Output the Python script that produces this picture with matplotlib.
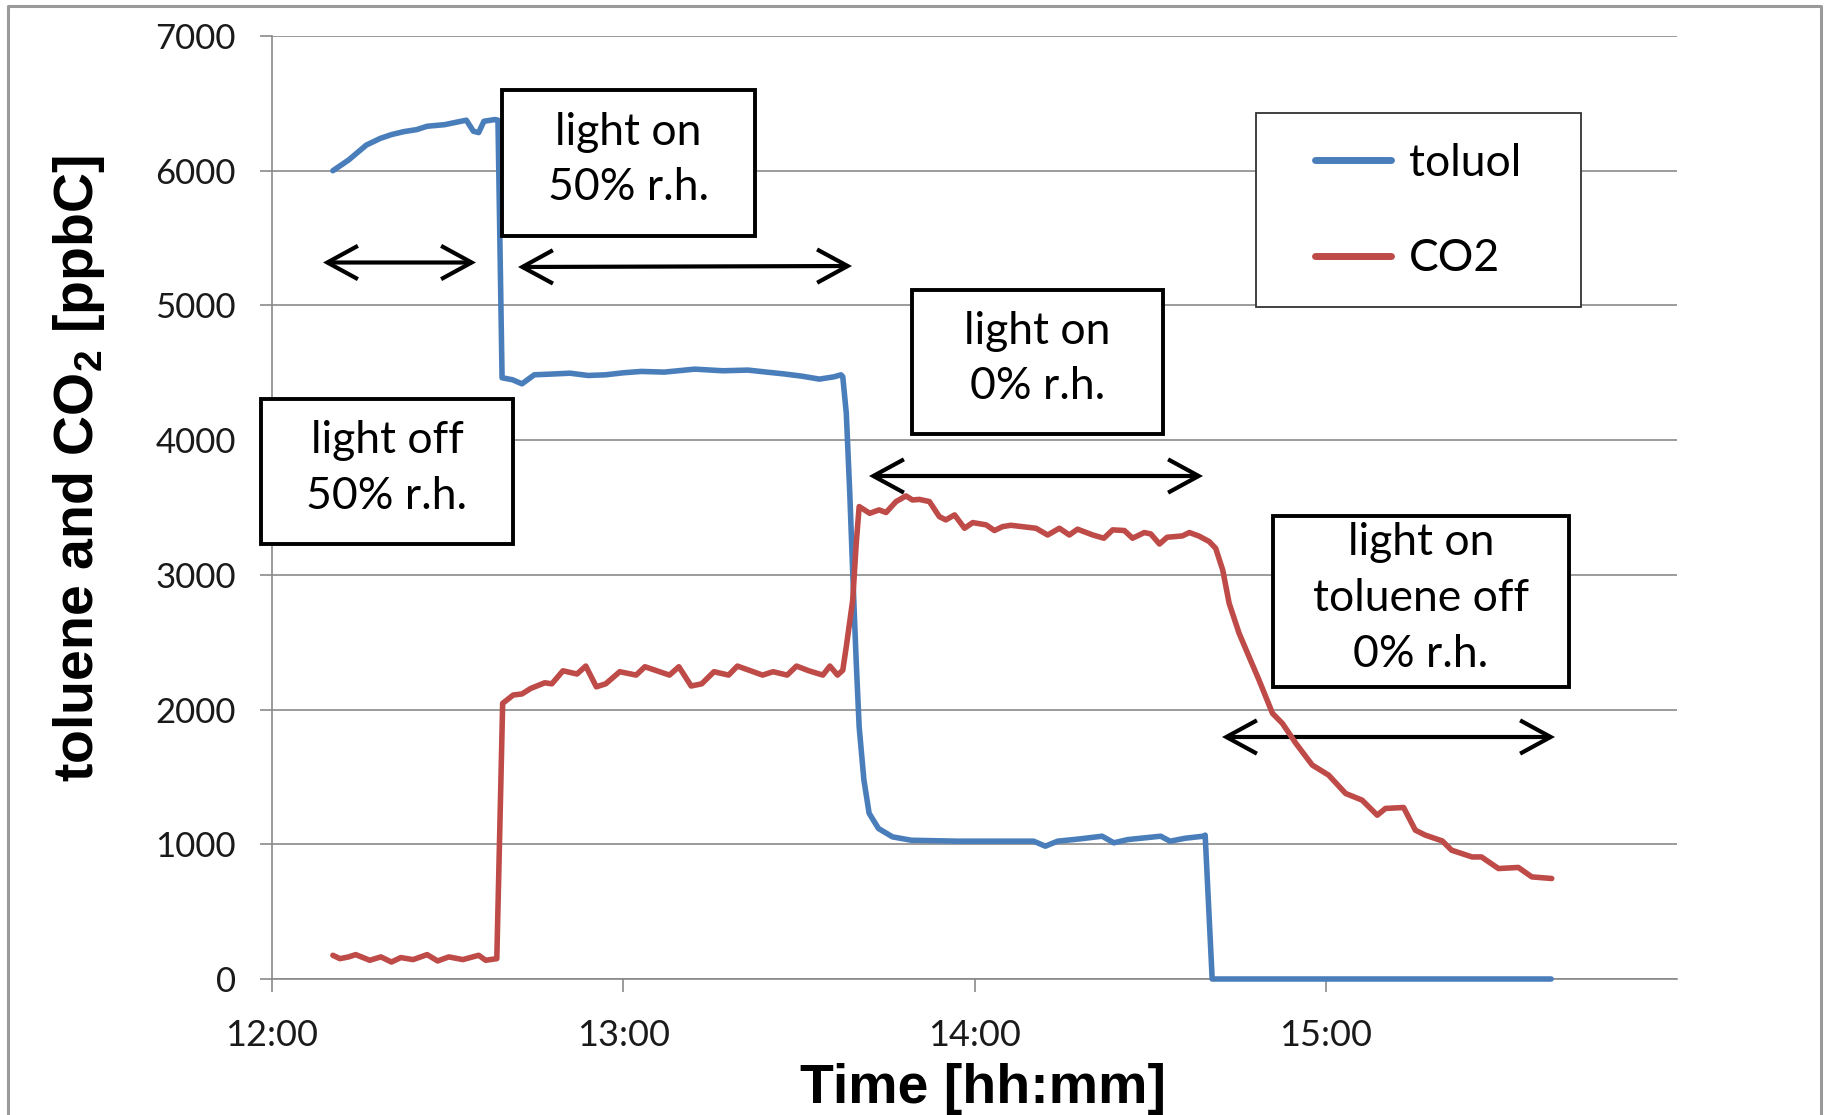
import matplotlib
matplotlib.use("Agg")
import matplotlib.pyplot as plt
from matplotlib.patches import Rectangle, FancyArrowPatch, ArrowStyle
from matplotlib.lines import Line2D

# ---------------- data (time in minutes after 12:00, values in ppbC) -------------
toluol_min = [10.4, 13.1, 16.1, 18.5, 20.4, 22.5, 24.7, 26.5, 29.5, 31.5, 33.2, 34.4,
              35.3, 36.2, 38.1, 38.6, 39.3, 41.1, 42.7, 44.8, 47.5, 50.9, 54.0, 57.0,
              60.0, 63.1, 67.0, 72.2, 77.0, 81.3, 84.5, 87.4, 90.5, 93.5, 96.0, 97.2,
              97.5, 98.1, 98.7, 99.3, 99.8, 100.3, 101.1, 102.0, 103.6, 106.0, 109.2,
              117.2, 130.1, 132.1, 134.2, 138.0, 141.8, 143.8, 146.2, 151.8, 153.4,
              156.0, 159.1, 159.4, 160.6, 218.5]
toluol_ppbC = [6000, 6080, 6190, 6240, 6268, 6290, 6305, 6330, 6342, 6360, 6375, 6293,
               6283, 6367, 6380, 6375, 4463, 4448, 4418, 4485, 4490, 4497, 4480, 4485,
               4500, 4510, 4505, 4527, 4515, 4520, 4505, 4492, 4475, 4453, 4470, 4485,
               4470, 4200, 3600, 2900, 2350, 1870, 1480, 1230, 1117, 1055, 1030,
               1023, 1023, 986, 1023, 1040, 1060, 1011, 1035, 1060, 1023,
               1045, 1060, 1068, 0, 0]

co2_min = [10.4, 11.6, 13.1, 14.3, 16.7, 18.6, 20.4, 22.0, 24.1, 26.5, 28.3, 30.2,
           32.6, 35.3, 36.5, 38.4, 39.0, 39.4, 41.2, 42.7, 44.2, 46.6, 47.8, 49.7,
           52.1, 53.6, 55.4, 57.0, 59.4, 62.2, 63.7, 67.9, 69.5, 71.6, 73.4, 75.5,
           78.0, 79.5, 83.8, 85.6, 88.0, 89.6, 91.7, 94.1, 95.3, 96.6, 97.5, 98.1,
           99.2, 99.8, 100.3, 102.1, 103.7, 104.9, 106.6, 108.3, 109.4, 110.6, 112.3,
           114.0, 115.1, 116.6, 118.3, 119.7, 122.0, 123.4, 124.8, 126.2, 130.5, 132.5,
           134.5, 136.2, 137.6, 140.2, 142.1, 143.6, 145.6, 147.0, 149.0, 150.1, 151.6,
           152.9, 155.5, 156.7, 158.3, 160.1, 161.2, 162.4, 163.5, 165.2, 166.9, 168.6,
           170.9, 172.6, 174.9, 177.7, 180.5, 183.4, 186.2, 188.8, 190.2, 193.3, 195.3,
           197.0, 199.9, 201.5, 205.0, 206.6, 209.5, 212.9, 215.2, 218.6]
co2_ppbC = [176, 151, 164, 181, 139, 164, 126, 159, 144, 181, 134, 164,
            144, 176, 139, 151, 1278, 2046, 2108, 2116, 2157, 2199, 2191, 2288,
            2264, 2323, 2169, 2191, 2281, 2256, 2318, 2256, 2318, 2175, 2191, 2281,
            2256, 2323, 2256, 2281, 2256, 2323, 2288, 2256, 2323, 2256, 2292, 2467,
            2813, 3236, 3507, 3457, 3482, 3463, 3544, 3586, 3556, 3560, 3544,
            3432, 3408, 3445, 3346, 3388, 3371, 3329, 3358, 3368, 3346, 3296,
            3346, 3296, 3339, 3296, 3272, 3334, 3329, 3272, 3314, 3304, 3229,
            3279, 3289, 3314, 3289, 3247, 3197, 3036, 2789, 2566, 2392, 2219,
            1972, 1897, 1749, 1588, 1513, 1377, 1328, 1216, 1266, 1273, 1105,
            1068, 1025, 956, 906, 906, 820, 828, 758, 746]

series_names = ["toluol", "CO2"]
x_ticks_h = [12, 13, 14, 15]
x_tick_labels = ["12:00", "13:00", "14:00", "15:00"]
y_ticks = [0, 1000, 2000, 3000, 4000, 5000, 6000, 7000]
box_texts = ["light on\n50% r.h.", "light off\n50% r.h.", "light on\n0% r.h.",
             "light on\ntoluene off\n0% r.h."]
x_label = "Time [hh:mm]"
y_label = r"toluene and CO$_\mathbf{2}$ [ppbC]"

# ---------------- styling ----------------
plt.rcParams['font.family'] = ['Lato', 'DejaVu Sans']
plt.rcParams['mathtext.fontset'] = 'custom'
plt.rcParams['mathtext.bf'] = 'Liberation Sans:bold'
plt.rcParams['mathtext.rm'] = 'Liberation Sans:bold'

W, H = 1829, 1115
fig = plt.figure(figsize=(W / 100, H / 100), dpi=100)
fig.patch.set_facecolor('white')


def fx(px):
    return px / W


def fy(py):
    return 1 - py / H


ax = fig.add_axes([fx(272), fy(979), fx(1677) - fx(272), fy(36) - fy(979)])

grid_c = '#8a8a8a'
blue = '#4A7EBB'
red = '#BE4B48'

toluol_t = [12 + m / 60 for m in toluol_min]
co2_t = [12 + m / 60 for m in co2_min]

ax.plot(toluol_t, toluol_ppbC, color=blue, lw=4.0, label=series_names[0],
        solid_joinstyle='round', solid_capstyle='round', zorder=3, clip_on=False)
ax.plot(co2_t, co2_ppbC, color=red, lw=4.0, label=series_names[1],
        solid_joinstyle='round', solid_capstyle='round', zorder=3.1, clip_on=False)

ax.set_xlim(12, 16)
ax.set_ylim(0, 7000)
ax.set_xticks(x_ticks_h)
ax.set_xticklabels(x_tick_labels)
ax.set_yticks(y_ticks)
ax.set_yticklabels([str(v) for v in y_ticks])
ax.grid(axis='y', color=grid_c, lw=1.2)
ax.set_axisbelow(True)
for s in ['top', 'right']:
    ax.spines[s].set_visible(False)
for s in ['left', 'bottom']:
    ax.spines[s].set_color(grid_c)
    ax.spines[s].set_linewidth(1.2)
ax.tick_params(axis='y', direction='out', length=9, width=1.2, color=grid_c,
               pad=17, labelsize=25, labelcolor='#1a1a1a')
ax.tick_params(axis='x', direction='out', length=9, width=1.2, color=grid_c,
               pad=20, labelsize=26, labelcolor='#1a1a1a')

# axis titles
fig.text(fx(983), fy(1103), x_label, ha='center', va='baseline',
         fontfamily='Liberation Sans', fontweight='bold', fontsize=40)
fig.text(fx(79), fy(469), y_label, ha='center', va='center', rotation=90,
         fontfamily='Liberation Sans', fontweight='bold', fontsize=40)

# legend (entries via library, frame as patch)
frame = Rectangle((fx(1256), fy(307)), fx(1581) - fx(1256), fy(113) - fy(307),
                  transform=fig.transFigure, facecolor='white', edgecolor='#333333',
                  lw=1.3, zorder=4, clip_on=False)
ax.add_patch(frame)
leg = ax.legend(loc='center left', bbox_to_anchor=(fx(1315), fy(211)),
                bbox_transform=fig.transFigure, frameon=False, borderpad=0,
                borderaxespad=0, handlelength=1.72, handletextpad=0.4,
                labelspacing=1.22, prop={'family': 'Lato', 'size': 32})
for line in leg.get_lines():
    line.set_linewidth(5.0)
leg.set_zorder(5)

# annotation boxes
boxes_px = [(502, 90, 755, 236), (261, 399, 513, 544), (912, 290, 1163, 434),
            (1273, 516, 1569, 687)]
for (x0, y0, x1, y1), txt in zip(boxes_px, box_texts):
    r = Rectangle((fx(x0), fy(y1)), fx(x1) - fx(x0), fy(y0) - fy(y1),
                  transform=fig.transFigure, facecolor='white', edgecolor='black',
                  lw=2.8, zorder=6, clip_on=False)
    ax.add_patch(r)
    ax.text(fx((x0 + x1) / 2), fy((y0 + y1) / 2 - 3), txt, transform=fig.transFigure,
            ha='center', va='center', fontsize=32, fontfamily='Lato',
            linespacing=1.45, zorder=7, clip_on=False)

# double-headed arrows
arrows_px = [((323, 262.5), (476, 262.5)), ((518, 267), (852, 266)),
             ((869, 476), (1203, 476)), ((1222, 737), (1555, 737))]
astyle = ArrowStyle('<->', head_length=22, head_width=12)
for (a, b) in arrows_px:
    arr = FancyArrowPatch((fx(a[0]), fy(a[1])), (fx(b[0]), fy(b[1])),
                          transform=fig.transFigure, arrowstyle=astyle,
                          mutation_scale=1, lw=3.0, color='black',
                          shrinkA=0, shrinkB=0, zorder=2.8, clip_on=False,
                          joinstyle='miter', capstyle='butt')
    ax.add_patch(arr)

# outer chart-area border (bottom edge cropped in the original)
fig.add_artist(Line2D([fx(8), fx(8), fx(1821), fx(1821)], [0, fy(6), fy(6), 0],
                      transform=fig.transFigure, color='#9a9a9a', lw=2.2))

fig.savefig('out.png', dpi=100)
